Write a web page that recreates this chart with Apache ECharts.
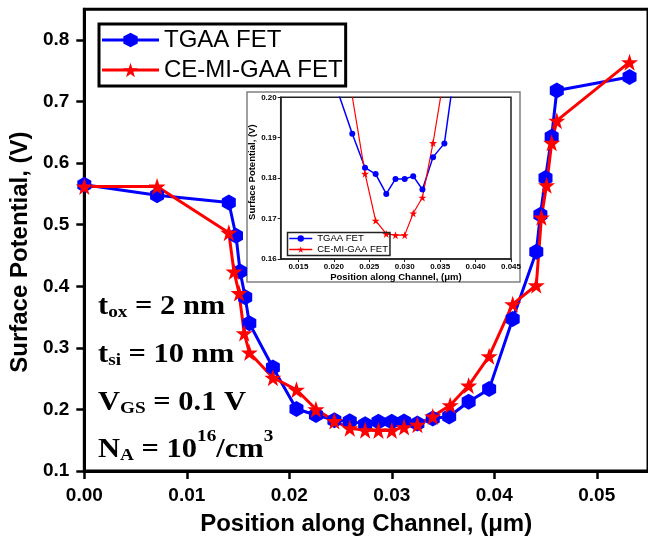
<!DOCTYPE html>
<html>
<head>
<meta charset="utf-8">
<script src="https://cdn.jsdelivr.net/npm/echarts@6/dist/echarts.min.js"></script>
<style>
  html, body { margin: 0; padding: 0; background: #fff; }
  #chart { width: 648px; height: 541px; }
</style>
</head>
<body>
<div id="chart"></div>
<script>
// ---- Data ----
const tgaaX = [0.0000, 0.0071, 0.0141, 0.0148, 0.0152, 0.0157, 0.0161, 0.0184, 0.0207, 0.0226, 0.0244, 0.0259, 0.0274, 0.0287, 0.0300, 0.0312, 0.0325, 0.0340, 0.0356, 0.0375, 0.0395, 0.0418, 0.0441, 0.0445, 0.0450, 0.0456, 0.0461, 0.0532];
const tgaaY = [0.565, 0.548, 0.536, 0.482, 0.424, 0.382, 0.340, 0.268, 0.2007, 0.191, 0.1826, 0.1810, 0.1761, 0.1798, 0.1798, 0.1805, 0.1772, 0.1852, 0.1886, 0.2125, 0.233, 0.347, 0.456, 0.516, 0.576, 0.643, 0.718, 0.740];
const ceX = [0.0000, 0.0071, 0.0141, 0.0146, 0.0151, 0.0156, 0.0161, 0.0184, 0.0207, 0.0226, 0.0244, 0.0259, 0.0274, 0.0287, 0.0300, 0.0312, 0.0325, 0.0340, 0.0357, 0.0375, 0.0395, 0.0418, 0.0441, 0.0446, 0.0451, 0.0456, 0.0461, 0.0532];
const ceY = [0.562, 0.562, 0.487, 0.424, 0.389, 0.324, 0.2925, 0.2516, 0.232, 0.2002, 0.1811, 0.1695, 0.1662, 0.1659, 0.1659, 0.1713, 0.1752, 0.1887, 0.2068, 0.2388, 0.2864, 0.371, 0.4016, 0.512, 0.564, 0.633, 0.669, 0.764];

const seriesNames = ['TGAA FET', 'CE-MI-GAA FET'];
const mainXTicks = [0, 0.01, 0.02, 0.03, 0.04, 0.05];
const mainYTicks = [0.1, 0.2, 0.3, 0.4, 0.5, 0.6, 0.7, 0.8];
const insetXTicks = [0.015, 0.020, 0.025, 0.030, 0.035, 0.040, 0.045];
const insetYTicks = [0.16, 0.17, 0.18, 0.19, 0.20];
const xTitle = 'Position along Channel, (\u03bcm)';
const yTitle = 'Surface Potential, (V)';

// ---- Build ----
const pairs = (xs, ys) => xs.map((x, i) => [x, ys[i]]);
const HEX = 'path://M50,0 L93.3,25 L93.3,75 L50,100 L6.7,75 L6.7,25 Z';
const STAR = 'path://M50,0 L61.8,35.1 L98.1,35.1 L68.8,56.8 L79.4,91 L50,70 L20.6,91 L31.2,56.8 L1.9,35.1 L38.2,35.1 Z';
const BLUE = '#0000ff', RED = '#ff0000';
const SANS = 'Liberation Sans';
const SERIF = 'Liberation Serif';

const rich = {
  m:  { fontFamily: SERIF, fontWeight: 'bold', fontSize: 27, lineHeight: 36, color: '#000', verticalAlign: 'bottom' },
  s:  { fontFamily: SERIF, fontWeight: 'bold', fontSize: 17, lineHeight: 17, color: '#000', verticalAlign: 'bottom' },
  u:  { fontFamily: SERIF, fontWeight: 'bold', fontSize: 17, lineHeight: 30, color: '#000', verticalAlign: 'top' }
};
const annot = [
  '{m|t}{s|ox}{m| = 2 nm}',
  '{m|t}{s|si}{m| = 10 nm}',
  '{m|V}{s|GS}{m| = 0.1 V}',
  '{m|N}{s|A}{m| = 10}{u|16}{m|/cm}{u|3}'
];
const annotTop = [285, 333, 381, 428];

const chart = echarts.init(document.getElementById('chart'), null, { renderer: 'canvas' });
const option = {
  animation: false,
  backgroundColor: '#fff',
  grid: [
    { left: 80, top: 9.2, width: 573.1, height: 462.5, show: true, borderColor: '#000', borderWidth: 3, backgroundColor: 'transparent' },
    { left: 280.7, top: 97.3, width: 230.3, height: 161.7, show: true, borderColor: '#222', borderWidth: 1.5, backgroundColor: 'transparent' }
  ],
  xAxis: [
    {
      type: 'value', gridIndex: 0, min: 0, max: 0.055,
      name: xTitle, nameLocation: 'middle', nameGap: 41,
      nameTextStyle: { fontFamily: SANS, fontWeight: 'bold', fontSize: 24, color: '#000' },
      axisLine: { onZero: false, lineStyle: { color: '#000', width: 3 } },
      axisTick: { inside: false, length: 8, lineStyle: { color: '#000', width: 2.5 }, customValues: mainXTicks },
      axisLabel: { margin: 15, fontFamily: SANS, fontWeight: 'bold', fontSize: 19, color: '#000', customValues: mainXTicks, formatter: v => v.toFixed(2) },
      splitLine: { show: false }
    },
    {
      type: 'value', gridIndex: 1, min: 0.0125, max: 0.045,
      name: xTitle, nameLocation: 'middle', nameGap: 12,
      nameTextStyle: { fontFamily: SANS, fontWeight: 'bold', fontSize: 9.5, color: '#000' },
      axisLine: { onZero: false, lineStyle: { color: '#222', width: 1.5 } },
      axisTick: { inside: false, length: 3, lineStyle: { color: '#222', width: 1 }, customValues: insetXTicks },
      axisLabel: { margin: 4, fontFamily: SANS, fontWeight: 'bold', fontSize: 8, color: '#000', customValues: insetXTicks, formatter: v => v.toFixed(3) },
      splitLine: { show: false }
    }
  ],
  yAxis: [
    {
      type: 'value', gridIndex: 0, min: 0.1, max: 0.85,
      name: yTitle, nameLocation: 'middle', nameGap: 42,
      nameTextStyle: { fontFamily: SANS, fontWeight: 'bold', fontSize: 24, color: '#000', padding: [0, 24, 0, 0] },
      axisLine: { onZero: false, lineStyle: { color: '#000', width: 3 } },
      axisTick: { inside: false, length: 8, lineStyle: { color: '#000', width: 2.5 }, customValues: mainYTicks },
      axisLabel: { margin: 15, fontFamily: SANS, fontWeight: 'bold', fontSize: 19, color: '#000', customValues: mainYTicks, formatter: v => v.toFixed(1) },
      splitLine: { show: false }
    },
    {
      type: 'value', gridIndex: 1, min: 0.16, max: 0.20,
      name: yTitle, nameLocation: 'middle', nameGap: 21,
      nameTextStyle: { fontFamily: SANS, fontWeight: 'bold', fontSize: 9.5, color: '#000', padding: [0, 0, 0, 12] },
      axisLine: { onZero: false, lineStyle: { color: '#222', width: 1.5 } },
      axisTick: { inside: false, length: 3, lineStyle: { color: '#222', width: 1 }, customValues: insetYTicks },
      axisLabel: { margin: 4, fontFamily: SANS, fontWeight: 'bold', fontSize: 8, color: '#000', customValues: insetYTicks, formatter: v => v.toFixed(2) },
      splitLine: { show: false }
    }
  ],
  legend: [
    {
      data: seriesNames, orient: 'vertical', left: 99, top: 24, selectedMode: false,
      borderColor: '#000', borderWidth: 3, padding: [4, 3, 4, 1.5],
      itemWidth: 57, itemHeight: 18, itemGap: 6,
      lineStyle: { width: 3 },
      textStyle: { fontFamily: SANS, fontSize: 24, color: '#000' }
    },
    {
      data: ['inset ' + seriesNames[0], 'inset ' + seriesNames[1]], orient: 'vertical', left: 287.5, top: 232.5, selectedMode: false,
      borderColor: '#222', borderWidth: 1.5, padding: [1, 2, 1, 1],
      itemWidth: 23, itemHeight: 8, itemGap: 1,
      lineStyle: { width: 1.5 },
      formatter: n => n.replace('inset ', ''),
      textStyle: { fontFamily: SANS, fontSize: 9.5, color: '#000' }
    }
  ],
  series: [
    {
      name: seriesNames[0], type: 'line', xAxisIndex: 0, yAxisIndex: 0, data: pairs(tgaaX, tgaaY),
      symbol: HEX, symbolSize: [14, 16], showAllSymbol: true,
      lineStyle: { color: BLUE, width: 3 }, itemStyle: { color: BLUE }
    },
    {
      name: seriesNames[1], type: 'line', xAxisIndex: 0, yAxisIndex: 0, data: pairs(ceX, ceY),
      symbol: STAR, symbolSize: 17, showAllSymbol: true,
      lineStyle: { color: RED, width: 3 }, itemStyle: { color: RED }
    },
    {
      name: 'inset ' + seriesNames[0], type: 'line', xAxisIndex: 1, yAxisIndex: 1, data: pairs(tgaaX, tgaaY),
      symbol: 'circle', symbolSize: 6, showAllSymbol: true, clip: true,
      lineStyle: { color: BLUE, width: 1.5 }, itemStyle: { color: BLUE }
    },
    {
      name: 'inset ' + seriesNames[1], type: 'line', xAxisIndex: 1, yAxisIndex: 1, data: pairs(ceX, ceY),
      symbol: STAR, symbolSize: 8, showAllSymbol: true, clip: true,
      lineStyle: { color: RED, width: 1.2 }, itemStyle: { color: RED }
    }
  ],
  graphic: [
    { type: 'rect', shape: { x: 247, y: 92, width: 273, height: 190 }, style: { fill: 'none', stroke: '#808080', lineWidth: 1.5 }, silent: true }
  ].concat(annot.map((t, i) => ({
    type: 'text', x: 98, y: annotTop[i], scaleX: 1.13, silent: true,
    style: { text: t, rich: rich, verticalAlign: 'top', align: 'left' }
  })))
};
chart.setOption(option);
</script>
</body>
</html>
